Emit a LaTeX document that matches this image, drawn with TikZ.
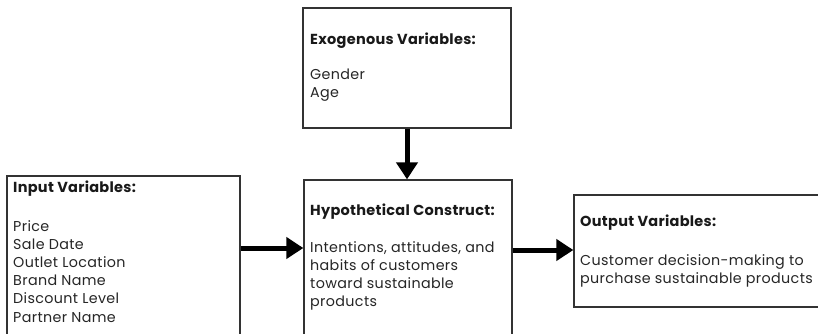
\documentclass[tikz,border=0pt]{standalone}
\usepackage{fontspec}
\setmainfont{Poppins}
\usetikzlibrary{arrows.meta}
\begin{document}
\begin{tikzpicture}[x=1pt,y=-1pt,
  box/.style={draw=black!80,line width=1.3pt,fill=white,inner sep=0pt},
  hd/.style={anchor=west,inner sep=0pt,font=\fontsize{14.5}{18.2}\selectfont\bfseries\addfontfeatures{LetterSpace=2},text=black!90},
  bd/.style={anchor=north west,inner sep=0pt,align=left,font=\fontsize{14.3}{18.2}\selectfont\addfontfeatures{LetterSpace=2.5},text=black!85},
  arr/.style={line width=5pt,-{Triangle[length=17pt,width=21pt]}}]
\useasboundingbox (0,0) rectangle (818,333);
\clip (0,0) rectangle (818,333);
\fill[white] (0,0) rectangle (818,333);
\node[box,minimum width=208pt,minimum height=120pt] (exo) at (407,68) {};
\node[box,minimum width=208pt,minimum height=170pt] (hyp) at (408,265) {};
\node[box,minimum width=233pt,minimum height=175pt] (inp) at (123.5,263.5) {};
\node[box,minimum width=256pt,minimum height=112pt] (out) at (702,251) {};
\node[hd] (exoh) at (310,41) {Exogenous Variables:};
\node[bd] (exob) at (310,69) {Gender\\Age};
\node[hd] (hyph) at (310,212) {Hypothetical Construct:};
\node[bd] (hypb) at (310,241) {Intentions, attitudes, and\\habits of customers\\toward sustainable\\products};
\node[hd] (inph) at (13,189) {Input Variables:};
\node[bd] (inpb) at (13,220) {Price\\Sale Date\\Outlet Location\\Brand Name\\Discount Level\\Partner Name};
\node[hd] (outh) at (580,223) {Output Variables:};
\node[bd] (outb) at (580,254) {Customer decision-making to\\purchase sustainable products};
\coordinate (a1) at (0,248);
\coordinate (a2) at (0,250);
\draw[arr] (exo.south) -- (exo.south |- hyp.north);
\draw[arr] (inp.east |- a1) -- (hyp.west |- a1);
\draw[arr] (hyp.east |- a2) -- (out.west |- a2);
\end{tikzpicture}
\end{document}
